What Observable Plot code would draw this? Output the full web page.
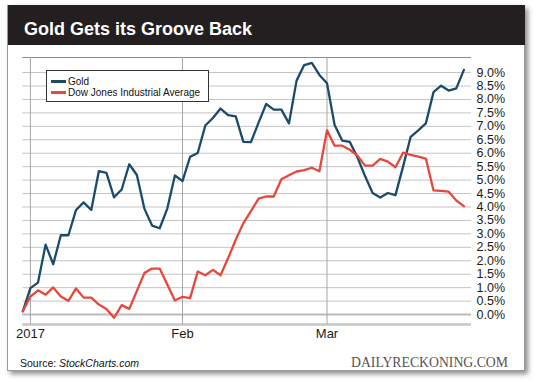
<!DOCTYPE html>
<html>
<head>
<meta charset="utf-8">
<script src="https://cdn.jsdelivr.net/npm/d3@7"></script>
<script src="https://cdn.jsdelivr.net/npm/@observablehq/plot@0.6"></script>
<style>
  html, body { margin: 0; padding: 0; background: #ffffff; }
  body { width: 540px; height: 383px; position: relative; overflow: hidden;
         font-family: "Liberation Sans", Arial, Helvetica, sans-serif; }
  #card { position: absolute; left: 7px; top: 5px; width: 518px; height: 366px;
          box-sizing: border-box; border: 1px solid #9a9a9a; background: #fff;
          box-shadow: 3px 3px 5px rgba(0,0,0,0.45); }
  #titlebar { position: absolute; left: 8px; top: 5px; width: 517px; height: 40px; background: #231f20; }
  #title { position: absolute; left: 24px; top: 19.5px; font-size: 18px; line-height: 18px;
           font-weight: bold; color: #ffffff; white-space: nowrap; }
  #chart { position: absolute; left: 0; top: 44px; }
  #legend { position: absolute; left: 46px; top: 70px; width: 163px; height: 32px; box-sizing: border-box;
            border: 1px solid #333; background: #fff; font-size: 10px; color: #111; }
  .item { position: absolute; left: 4px; height: 11px; line-height: 11px; white-space: nowrap; }
  .sw { display: inline-block; width: 15px; height: 2.5px; vertical-align: middle; margin-right: 2px; position: relative; top: -1px; }
  #source { position: absolute; left: 20px; top: 357px; font-size: 10.5px; line-height: 12px; color: #111; white-space: nowrap; }
  #logo { position: absolute; left: 350px; top: 352px; }
</style>
</head>
<body>
<div id="card"></div>
<div id="titlebar"></div>
<div id="title">Gold Gets its Groove Back</div>
<div id="chart"></div>
<div id="legend"></div>
<div id="source">Source: <i>StockCharts.com</i></div>
<svg id="logo" width="170" height="20"><text x="1" y="15" font-family="'Liberation Serif', 'Times New Roman', serif" font-size="14.5" fill="#555" textLength="157" lengthAdjust="spacingAndGlyphs">DAILYRECKONING.COM</text></svg>
<script>
// Trading-day index 0 = Dec 30, 2016 ... 58 = Mar 27, 2017
const seriesNames = ["Gold", "Dow Jones Industrial Average"];
const seriesColors = ["#1b4b6c", "#e8473b"];
const gold = [0.12, 0.98, 1.19, 2.60, 1.87, 2.95, 2.95, 3.89, 4.17, 3.89,
              5.33, 5.27, 4.36, 4.65, 5.59, 5.19, 3.93, 3.31, 3.21, 3.94,
              5.17, 4.96, 5.87, 6.01, 7.03, 7.31, 7.66, 7.42, 7.37, 6.42,
              6.41, 7.14, 7.83, 7.62, 7.62, 7.11, 8.70, 9.28, 9.36, 8.91,
              8.60, 7.05, 6.47, 6.42, 5.85, 5.15, 4.52, 4.35, 4.52, 4.44,
              5.50, 6.61, 6.85, 7.11, 8.27, 8.51, 8.33, 8.41, 9.10];
const dow = [0.12, 0.67, 0.90, 0.74, 1.01, 0.67, 0.51, 0.97, 0.63, 0.63,
             0.37, 0.21, -0.12, 0.35, 0.21, 0.88, 1.55, 1.71, 1.71, 1.12,
             0.52, 0.66, 0.61, 1.60, 1.46, 1.66, 1.46, 2.10, 2.78, 3.40,
             3.85, 4.31, 4.39, 4.39, 5.03, 5.18, 5.32, 5.37, 5.46, 5.33,
             6.85, 6.28, 6.28, 6.13, 5.91, 5.54, 5.54, 5.79, 5.69, 5.48,
             6.02, 5.94, 5.87, 5.80, 4.62, 4.60, 4.57, 4.24, 4.03];
const xTickIndex = [1, 21, 40];
const xTickLabels = ["2017", "Feb", "Mar"];
const yTicks = [0, 0.5, 1, 1.5, 2, 2.5, 3, 3.5, 4, 4.5, 5, 5.5, 6, 6.5, 7, 7.5, 8, 8.5, 9];
const yMin = -0.37, yMax = 9.56, xMax = 59;

const rows = gold.map((g, i) => ({i, gold: g, dow: dow[i]}));

const chart = Plot.plot({
  width: 540,
  height: 300,
  marginLeft: 22.3,
  marginRight: 69,
  marginTop: 13,
  marginBottom: 20,
  x: {domain: [0, xMax], axis: null, label: null},
  y: {domain: [yMin, yMax], axis: null, label: null},
  style: {fontFamily: "'Liberation Sans', Arial, Helvetica, sans-serif", fontSize: "13px", color: "#1a1a1a", background: "transparent", overflow: "visible"},
  marks: [
    Plot.ruleY(yTicks, {stroke: "#c4c4c4", strokeWidth: 1}),
    Plot.ruleY([0], {stroke: "#bcbcbc", strokeWidth: 2}),
    Plot.ruleY([yMin], {stroke: "#c6c6c6", strokeWidth: 2.5}),
    Plot.ruleY([yMax], {stroke: "#8c8c8c", strokeWidth: 1}),
    Plot.ruleX(xTickIndex, {y1: yMin, y2: yMax, stroke: "#a6a6a6", strokeWidth: 1}),
    Plot.axisX(xTickIndex, {anchor: "bottom", tickSize: 0, tickPadding: 4, label: null,
      tickFormat: d => xTickLabels[xTickIndex.indexOf(d)]}),
    Plot.axisY(yTicks, {anchor: "right", tickSize: 0, tickPadding: 5, label: null, fontSize: 12.5,
      tickFormat: d => d.toFixed(1) + "%"}),
    Plot.line(rows, {x: "i", y: "gold", stroke: seriesColors[0], strokeWidth: 2.3}),
    Plot.line(rows, {x: "i", y: "dow", stroke: seriesColors[1], strokeWidth: 2.3})
  ]
});
document.getElementById("chart").appendChild(chart);

const legend = document.getElementById("legend");
seriesNames.forEach((name, k) => {
  const item = document.createElement("div");
  item.className = "item";
  item.style.top = (k === 0 ? 5 : 16) + "px";
  const sw = document.createElement("span");
  sw.className = "sw";
  sw.style.background = seriesColors[k];
  item.appendChild(sw);
  item.appendChild(document.createTextNode(name));
  legend.appendChild(item);
});
</script>
</body>
</html>
